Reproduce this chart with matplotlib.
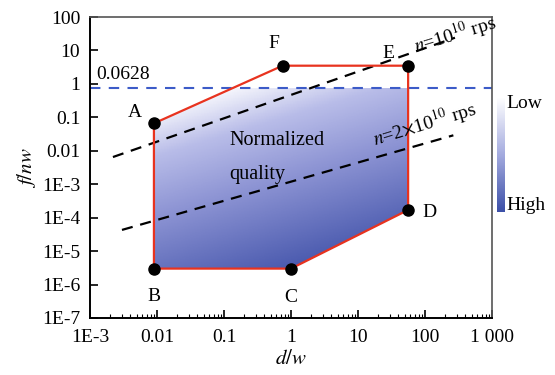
import numpy as np
import matplotlib.pyplot as plt
from matplotlib.colors import LinearSegmentedColormap
from matplotlib.patches import Polygon

plt.rcParams['font.family'] = ['Liberation Serif', 'DejaVu Serif']
plt.rcParams['mathtext.fontset'] = 'stix'

# corner points of the operating region
names = ['A', 'B', 'C', 'D', 'E', 'F']
px = [0.009, 0.009, 1.0, 56.0, 56.0, 0.75]
py = [0.066, 3.0e-6, 3.0e-6, 1.7e-4, 3.5, 3.5]

# lines of constant rotation speed
n1_x = [0.0022, 280]
n1_y = [0.0065, 24]
n2_x = [0.003, 265]
n2_y = [4.3e-5, 0.029]

limit_y = 0.75

xticks = [1e-3, 1e-2, 1e-1, 1, 10, 100, 1000]
xlabels = ['1E-3', '0.01', '0.1', '1', '10', '100', '1 000']
yticks = [1e-7, 1e-6, 1e-5, 1e-4, 1e-3, 1e-2, 1e-1, 1, 10, 100]
ylabels = ['1E-7', '1E-6', '1E-5', '1E-4', '1E-3', '0.01', '0.1', '1', '10', '100']

fill_cmap = LinearSegmentedColormap.from_list(
    'fill', [(0, '#4a5aae'), (0.45, '#8c93d3'), (0.75, '#b8bce8'), (1, '#ffffff')])
bar_cmap = LinearSegmentedColormap.from_list('bar', ['#ffffff', '#a4abdf', '#3d50a8'])

fig = plt.figure(figsize=(5.55, 3.75), dpi=100)
ax = fig.add_axes([90/555, 1-318/375, 402/555, 301/375])
ax.set_xscale('log')
ax.set_yscale('log')
ax.set_xlim(1e-3, 1000)
ax.set_ylim(1e-7, 100)

# gradient fill, clipped to the polygon and below the dashed limit
gx = np.logspace(-2.2, 2.0, 300)
gy = np.logspace(-6, 0.7, 300)
GX, GY = np.meshgrid(gx, gy)
val = np.log10(GY) - 0.6*np.log10(GX)
val = np.ma.masked_where(GY > limit_y, val)
mesh = ax.pcolormesh(GX, GY, val, cmap=fill_cmap, vmin=-5.5, vmax=0.6,
                     shading='auto', zorder=1)
poly = Polygon(list(zip(px, py)), closed=True, transform=ax.transData,
               facecolor='none', edgecolor='none')
ax.add_patch(poly)
mesh.set_clip_path(poly)

ax.plot(px + [px[0]], py + [py[0]], color='#e8331f', lw=1.6, zorder=3)
ax.plot(px, py, 'o', color='black', ms=8, zorder=4)

offs = {'A': (-14, 8), 'B': (0, -20), 'C': (0, -21), 'D': (15, -2), 'E': (-14, 9), 'F': (-6, 16)}
for nm, x, y in zip(names, px, py):
    ax.annotate(nm, (x, y), xytext=offs[nm], textcoords='offset points',
                ha='center', va='center', fontsize=14)

ax.axhline(limit_y, color='#3c5bc8', lw=1.5, dashes=(5, 4), zorder=2)
ax.text(1.25e-3, 1.05, '0.0628', fontsize=14, ha='left', va='bottom')

ax.plot(n1_x, n1_y, color='black', lw=1.6, dashes=(5, 3.5), zorder=2)
ax.plot(n2_x, n2_y, color='black', lw=1.6, dashes=(5, 3.5), zorder=2)
ax.text(60, 5.5, r'$n$=10$^{10}$ rps', fontsize=14, rotation=17,
        ha='left', va='bottom')
ax.text(15, 0.009, r'$n$=2$\times$10$^{10}$ rps', fontsize=14, rotation=17,
        ha='left', va='bottom')

ax.text(0.12, 0.021, 'Normalized', fontsize=14.5, ha='left', va='center')
ax.text(0.12, 0.002, 'quality', fontsize=14.5, ha='left', va='center')

ax.set_xticks(xticks)
ax.set_xticklabels(xlabels)
ax.set_yticks(yticks)
ax.set_yticklabels(ylabels)
ax.tick_params(which='major', direction='in', length=6, width=1.2, labelsize=14)
ax.tick_params(axis='x', which='major', pad=8)
ax.tick_params(axis='y', which='major', pad=7)
ax.tick_params(which='minor', direction='in', length=3, width=0.8)
ax.tick_params(top=False, right=False, which='both')
for s in ['left', 'bottom']:
    ax.spines[s].set_linewidth(1.4)
for s in ['top', 'right']:
    ax.spines[s].set_color('#555555')
    ax.spines[s].set_linewidth(1.2)

ax.set_xlabel(r'$d/w$', fontsize=15, labelpad=3)
ax.set_ylabel(r'$f/nw$', fontsize=15, labelpad=3)

# colour bar
cax = fig.add_axes([497/555, 1-212/375, 8/555, 115/375])
cax.imshow(np.linspace(0, 1, 100).reshape(-1, 1), cmap=bar_cmap, aspect='auto')
cax.axis('off')
fig.text(506/555, 1-103/375, 'Low', fontsize=14, ha='left', va='center')
fig.text(506/555, 1-205/375, 'High', fontsize=14, ha='left', va='center')

fig.savefig('out.png', dpi=100)
